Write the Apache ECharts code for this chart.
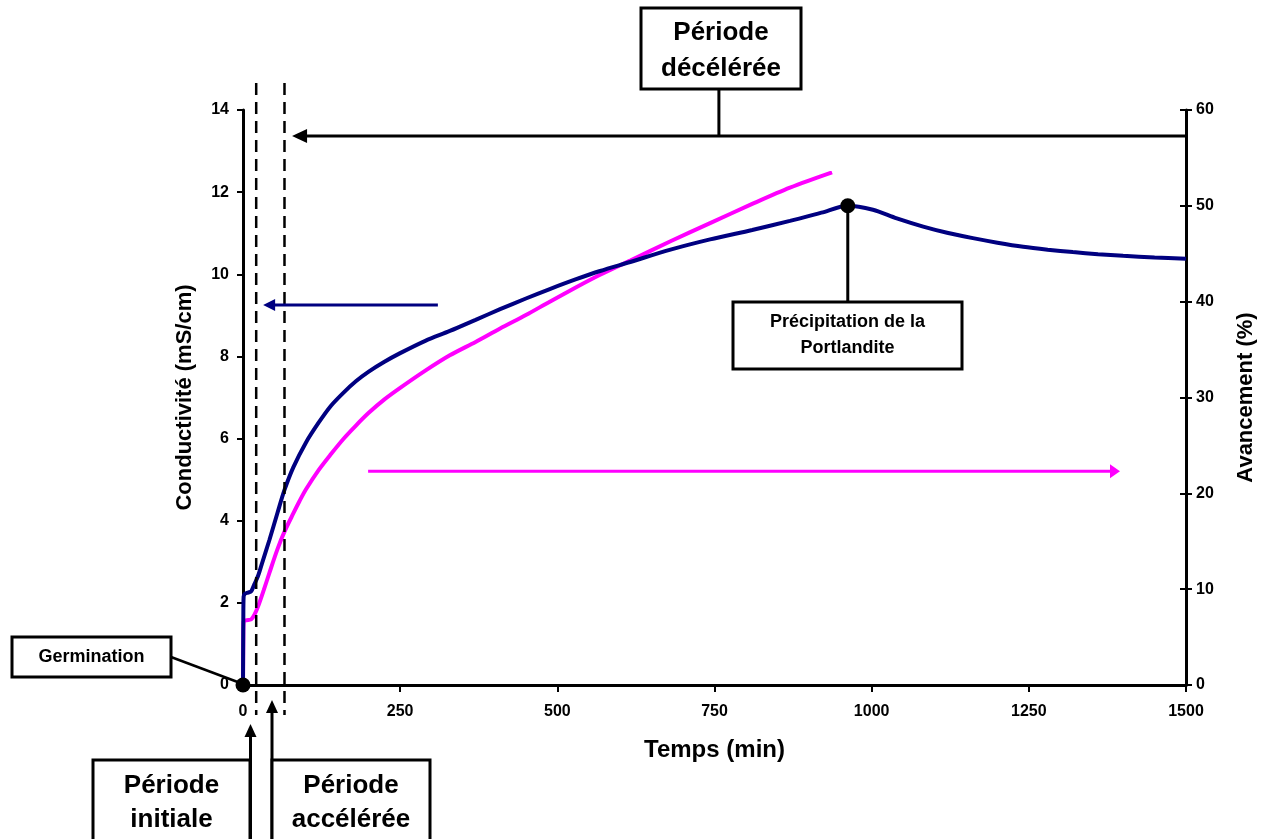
<!DOCTYPE html>
<html><head><meta charset="utf-8">
<script src="https://cdn.jsdelivr.net/npm/echarts@6/dist/echarts.min.js"></script>
<style>html,body{margin:0;padding:0;background:#fff}#c{width:1267px;height:839px}</style>
</head><body><div id="c"></div>
<script>
// Conductivité (mS/cm) vs temps (min)
const conductivite = [
  [0,0],[0.5,1.6],[1,2.15],[3,2.22],[8,2.25],[13,2.28],[18,2.45],[24,2.66],[30,2.95],[42,3.53],
  [55,4.2],[66,4.75],[80,5.3],[100,5.9],[120,6.38],[140,6.8],[160,7.12],[180,7.4],[200,7.63],
  [225,7.87],[250,8.08],[290,8.38],[329,8.62],[370,8.89],[409,9.15],[450,9.41],[488,9.64],
  [530,9.88],[568,10.08],[616,10.3],[680,10.6],[743,10.85],[810,11.08],[870,11.3],[920,11.5],
  [962,11.67],[1002,11.57],[1040,11.36],[1082,11.16],[1120,11.01],[1161,10.88],[1200,10.77],
  [1241,10.67],[1280,10.6],[1320,10.54],[1360,10.49],[1400,10.45],[1450,10.41],[1500,10.38]
];
// Avancement (%) vs temps (min)
const avancement = [
  [0,0],[0.5,5],[1,6.6],[5,6.75],[13,6.85],[18,7.3],[24,8.2],[33,9.9],[42,11.7],[55,14.2],
  [66,16.0],[80,17.9],[90,19.2],[100,20.4],[120,22.4],[140,24.1],[160,25.7],[180,27.1],[200,28.4],
  [225,29.8],[250,31.0],[290,32.8],[329,34.4],[370,35.8],[409,37.2],[450,38.6],[488,40.0],
  [530,41.5],[568,42.8],[616,44.3],[680,46.3],[743,48.2],[810,50.2],[870,51.9],[937,53.5]
];
const markerPoints = [[0,0],[962,11.67]];
const periodLimits = [21, 66];
const xTitle = 'Temps (min)';
const yLeftTitle = 'Conductivité (mS/cm)';
const yRightTitle = 'Avancement (%)';

const FONT = '"Liberation Sans", Arial, sans-serif';
const chart = echarts.init(document.getElementById('c'));
const axisLine = {show:true, lineStyle:{color:'#000', width:3}};
const lbl = {color:'#000', fontFamily:FONT, fontWeight:'bold', fontSize:16, formatter:v=>String(v)};
chart.setOption({
  animation:false,
  grid:{left:243, right:81, top:110, bottom:154, containLabel:false},
  xAxis:{type:'value', min:0, max:1500, interval:250,
    axisLine:axisLine, axisTick:{show:true, length:7, lineStyle:{color:'#000', width:2}},
    axisLabel:Object.assign({margin:19}, lbl), splitLine:{show:false},
    name:xTitle, nameLocation:'middle', nameGap:53,
    nameTextStyle:{color:'#000', fontFamily:FONT, fontWeight:'bold', fontSize:24}},
  yAxis:[
    {type:'value', min:0, max:14, interval:2, position:'left',
      axisLine:axisLine, axisTick:{show:true, length:6, lineStyle:{color:'#000', width:2}},
      axisLabel:Object.assign({margin:14}, lbl), splitLine:{show:false},
      name:yLeftTitle, nameLocation:'middle', nameGap:47, nameRotate:90,
      nameTextStyle:{color:'#000', fontFamily:FONT, fontWeight:'bold', fontSize:22}},
    {type:'value', min:0, max:60, interval:10, position:'right',
      axisLine:axisLine, axisTick:{show:true, length:6, lineStyle:{color:'#000', width:2}},
      axisLabel:Object.assign({margin:10}, lbl), splitLine:{show:false},
      name:yRightTitle, nameLocation:'middle', nameGap:49, nameRotate:90,
      nameTextStyle:{color:'#000', fontFamily:FONT, fontWeight:'bold', fontSize:22}},
    {type:'value', min:0, max:60, interval:10, position:'right',
      axisLine:{show:false}, axisTick:{show:true, inside:true, length:6, lineStyle:{color:'#000', width:2}},
      axisLabel:{show:false}, splitLine:{show:false}}
  ],
  series:[
    {type:'line', data:conductivite, yAxisIndex:0, showSymbol:false, smooth:0.3,
      lineStyle:{color:'#000080', width:4}, z:3},
    {type:'line', data:avancement, yAxisIndex:1, showSymbol:false, smooth:0.3,
      lineStyle:{color:'#FF00FF', width:4}, z:2},
    {type:'scatter', data:markerPoints, yAxisIndex:0, symbolSize:15,
      itemStyle:{color:'#000', opacity:1}, z:10}
  ]
});

function P(x, y, yi){ return chart.convertToPixel({xAxisIndex:0, yAxisIndex:yi||0}, [x, y]); }
const g = [];
const blk = {stroke:'#000', lineWidth:3};
function line(x1,y1,x2,y2,style){ g.push({type:'line', shape:{x1,y1,x2,y2}, style:Object.assign({fill:null}, style), z:20}); }
function arrowHead(tx,ty,dir,len,hw,color){
  let pts;
  if(dir==='left') pts=[[tx,ty],[tx+len,ty-hw],[tx+len,ty+hw]];
  else if(dir==='right') pts=[[tx,ty],[tx-len,ty-hw],[tx-len,ty+hw]];
  else pts=[[tx,ty],[tx-hw,ty+len],[tx+hw,ty+len]];
  g.push({type:'polygon', shape:{points:pts}, style:{fill:color}, z:21});
}
function box(x,y,w,h,lines,fs,lh,cy){
  g.push({type:'rect', shape:{x,y,width:w,height:h}, style:{fill:'#fff', stroke:'#000', lineWidth:3}, z:22});
  const c = (cy!==undefined) ? cy : y+h/2;
  lines.forEach((t,i)=>{
    g.push({type:'text', x:x+w/2, y:c+(i-(lines.length-1)/2)*lh,
      style:{text:t, fill:'#000', font:'bold '+fs+'px '+FONT, align:'center', verticalAlign:'middle'}, z:23});
  });
}
// dashed period limits
periodLimits.forEach(v=>{
  const px = P(v,0)[0];
  line(px,83,px,715,{stroke:'#000', lineWidth:2.5, lineDash:[12,7]});
});
// top black arrow (période décélérée)
const yTop = P(0,13.37)[1];
const xR = P(1500,0)[0], xTip = P(78,0)[0];
line(xTip+10,yTop,xR,yTop,blk);
arrowHead(xTip,yTop,'left',15,7,'#000');
const xConn = P(757,0)[0];
line(xConn,88,xConn,yTop,blk);
box(641,8,160,81,['Période','décélérée'],26,36,51);
// blue arrow (conductivity axis)
const bA = P(310,9.25), bT = P(32,9.25);
line(bT[0]+8,bA[1],bA[0],bA[1],{stroke:'#000080', lineWidth:3});
arrowHead(bT[0],bA[1],'left',12,6,'#000080');
// pink arrow (avancement axis)
const pA = P(199,22.3,1), pT = P(1395,22.3,1);
line(pA[0],pA[1],pT[0]-8,pA[1],{stroke:'#FF00FF', lineWidth:3});
arrowHead(pT[0],pA[1],'right',10,7,'#FF00FF');
// Germination
const g0 = P(0,0);
line(171,657,g0[0],g0[1]-1,{stroke:'#000', lineWidth:2.5});
box(12,637,159,40,['Germination'],18,0);
// Précipitation
const pk = P(962,11.67);
line(pk[0],pk[1],pk[0],302,blk);
box(733,302,229,67,['Précipitation de la','Portlandite'],18,26);
// Période initiale / accélérée
box(93,760,157,100,['Période','initiale'],26,34,803);
line(250.5,860,250.5,735,blk);
arrowHead(250.5,724,'up',13,6,'#000');
box(272,760,158,100,['Période','accélérée'],26,34,803);
line(272,860,272,711,blk);
arrowHead(272,700,'up',13,6,'#000');
chart.setOption({graphic:g});
</script></body></html>
